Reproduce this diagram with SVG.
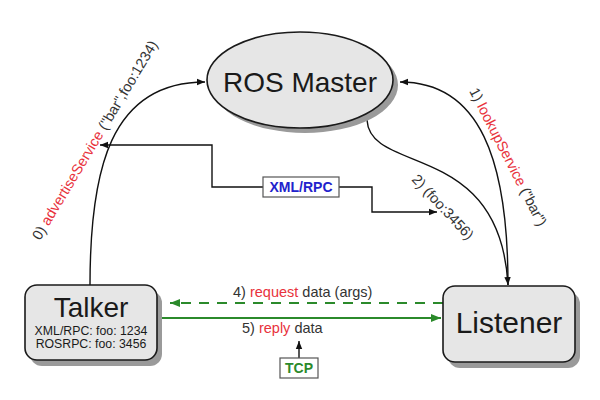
<svg xmlns="http://www.w3.org/2000/svg" width="600" height="400" viewBox="0 0 600 400">
<defs>
<style>
.node{fill:#e6e6e6;stroke:#1a1a1a;stroke-width:1.6}
.shadow{fill:#9a9a9a;stroke:none}
.big{font-family:"Liberation Sans",Arial,sans-serif;fill:#1a1a1a;text-anchor:middle}
.lbl{font-family:"Liberation Sans",Arial,sans-serif;font-size:14.5px;fill:#333}
.red{fill:#e8323c}
.edge{fill:none;stroke:#111;stroke-width:1.4}
.box{fill:#fff;stroke:#555;stroke-width:1.2}
.green{stroke:#2b8a2b;stroke-width:2;fill:none}
</style>
<marker id="ah" viewBox="0 0 10 10" refX="10" refY="5" markerWidth="8" markerHeight="8" markerUnits="userSpaceOnUse" orient="auto"><path d="M0,1 L10,5 L0,9 z" fill="#111"/></marker>
<marker id="ahg" viewBox="0 0 10 10" refX="10" refY="5" markerWidth="10" markerHeight="10" markerUnits="userSpaceOnUse" orient="auto"><path d="M0,1 L10,5 L0,9 z" fill="#2b8a2b"/></marker>
</defs>
<rect width="600" height="400" fill="#fff"/>
<g id="connectors">
<path class="edge" d="M90,285 C90,170 110,82 205,82" marker-end="url(#ah)"/>
<path class="edge" d="M508,285 C508,160 480,82 400,82" marker-end="url(#ah)"/>
<path class="edge" d="M367,120 C370,175 500,140 508,285" marker-end="url(#ah)"/>
<polyline class="edge" points="263,187 212,187 212,145 100,145" marker-end="url(#ah)"/>
<polyline class="edge" points="339,187 372,187 372,212 437,212" marker-end="url(#ah)"/>
<line class="green" x1="443" y1="303" x2="170" y2="303" stroke-dasharray="10,8" marker-end="url(#ahg)"/>
<line class="green" x1="160" y1="318" x2="441" y2="318" marker-end="url(#ahg)"/>
<line class="edge" x1="299" y1="358" x2="299" y2="341" marker-end="url(#ah)"/>
<text class="lbl" transform="translate(40,241) rotate(-59)">0) <tspan class="red">advertiseService</tspan> ("bar",foo:1234)</text>
<text class="lbl" transform="translate(469,91) rotate(63)">1) <tspan class="red">lookupService</tspan> ("bar")</text>
<text class="lbl" transform="translate(411,180) rotate(47)">2) (foo:3456)</text>
<text class="lbl" x="233" y="297">4) <tspan class="red">request</tspan> data (args)</text>
<text class="lbl" x="242" y="333">5) <tspan class="red">reply</tspan> data</text>
</g>
<g id="xmlrpc">
<rect class="box" x="263" y="177" width="76" height="20"/>
<text x="301" y="192" font-family="Liberation Sans,Arial,sans-serif" font-size="14" font-weight="bold" fill="#2222cc" text-anchor="middle">XML/RPC</text>
</g>
<g id="tcp">
<rect class="box" x="280" y="358" width="38" height="20"/>
<text x="299" y="373" font-family="Liberation Sans,Arial,sans-serif" font-size="14" font-weight="bold" fill="#2b8a2b" text-anchor="middle">TCP</text>
</g>
<g id="master">
<ellipse class="shadow" cx="305" cy="85" rx="93" ry="48"/>
<ellipse class="node" cx="300" cy="80" rx="93" ry="48"/>
<text class="big" x="300" y="92" font-size="28">ROS Master</text>
</g>
<g id="talker">
<rect class="shadow" x="30" y="291" width="132" height="75" rx="12"/>
<rect class="node" x="25" y="285" width="132" height="75" rx="12"/>
<text class="big" x="91" y="317" font-size="28">Talker</text>
<text class="big" x="91" y="335" font-size="12.3">XML/RPC: foo: 1234</text>
<text class="big" x="91" y="348" font-size="12.3">ROSRPC: foo: 3456</text>
</g>
<g id="listener">
<rect class="shadow" x="448" y="292" width="132" height="76" rx="12"/>
<rect class="node" x="443" y="286" width="132" height="76" rx="12"/>
<text class="big" x="509" y="333" font-size="30">Listener</text>
</g>
</svg>
